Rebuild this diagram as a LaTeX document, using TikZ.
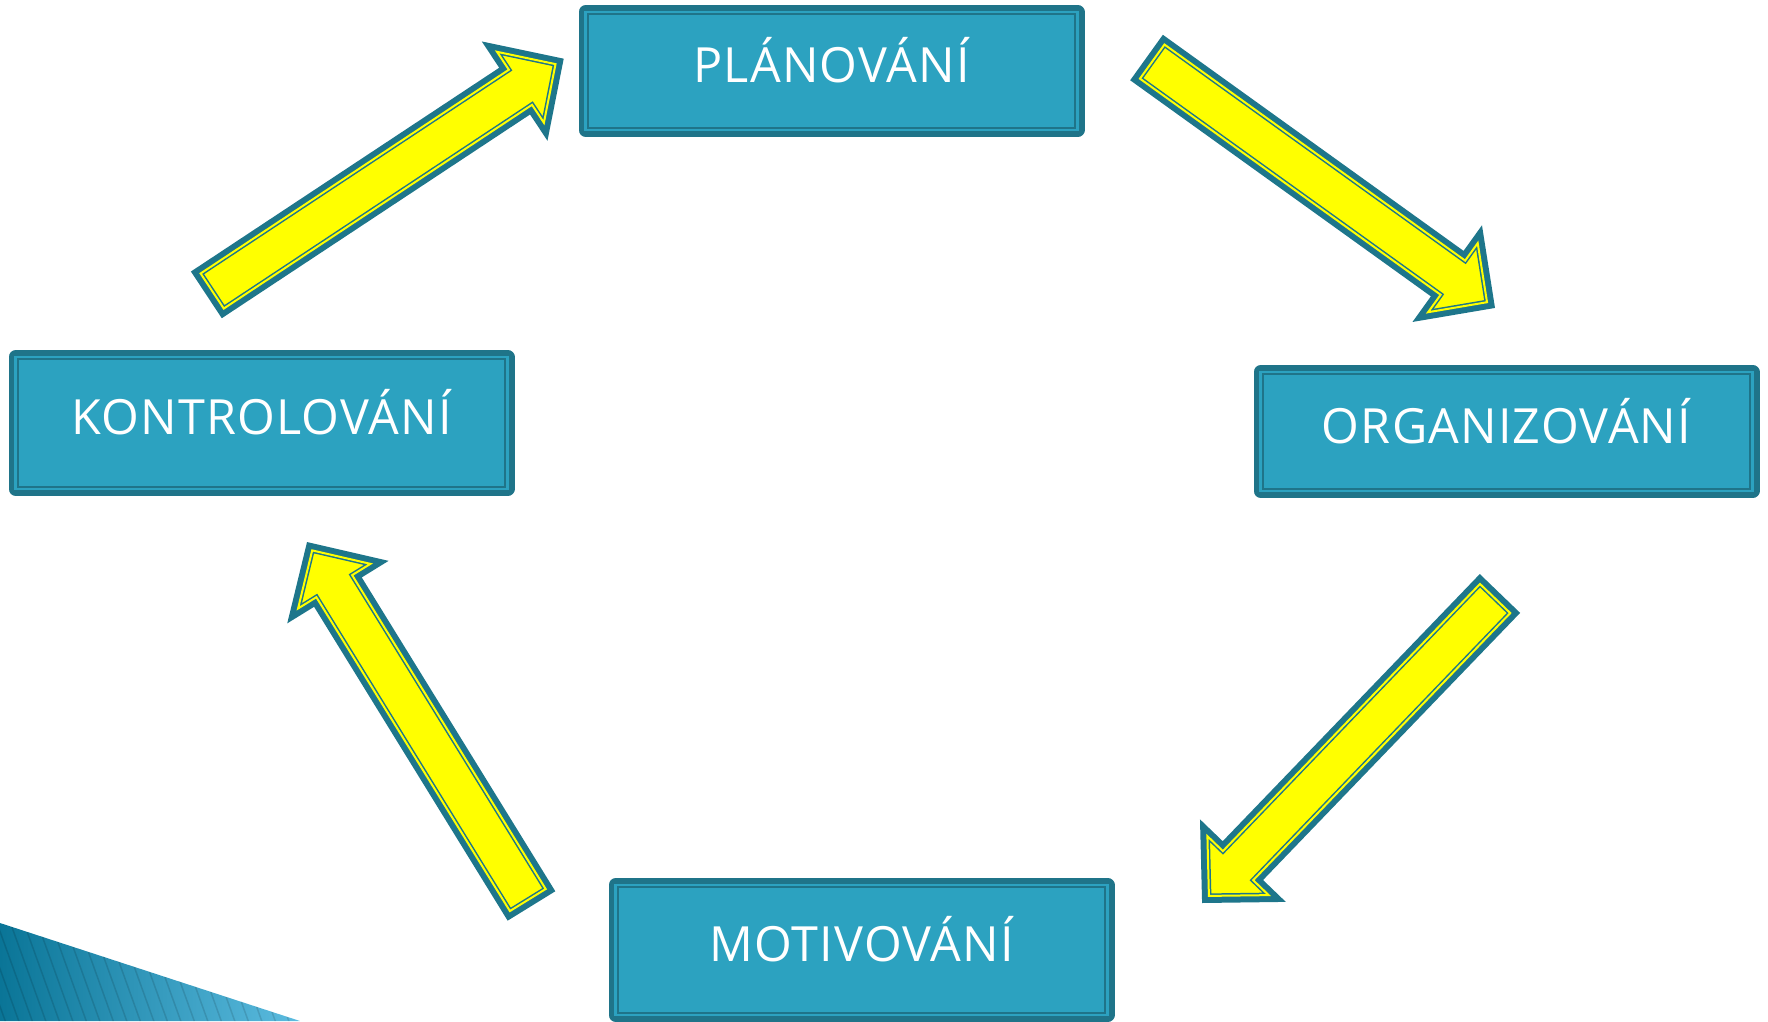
\documentclass[tikz,border=0pt]{standalone}
\usepackage{fontspec}
\setmainfont{Open Sans}[LetterSpace=2.5]
\usetikzlibrary{calc,positioning}

\definecolor{boxfill}{HTML}{2CA2C0}
\definecolor{boxline}{HTML}{1F7489}
\definecolor{arrowfill}{HTML}{FFFF00}
\definecolor{arrowline}{HTML}{1E768B}
\definecolor{decodark}{HTML}{0A7597}
\definecolor{decolight}{HTML}{5CBCE0}

\tikzset{
  phase/.style={rectangle, inner sep=0pt, fill=boxfill, draw=boxline,
    line width=2pt, double=boxfill, double distance=2.5pt,
    preaction={draw=boxline, line width=14pt, line join=round},
    minimum width=492pt,
    text=white, font=\fontsize{48.5}{58}\selectfont,
    text height=34.5pt, text depth=11pt},
  cyclearrow/.style={fill=arrowfill, draw=arrowline, line width=1.5pt,
    double=arrowfill, double distance=2pt,
    preaction={draw=arrowline, line width=14pt}},
  stripe/.style={draw=black, opacity=0.12, line width=1.5pt}
}

\begin{document}
\begin{tikzpicture}[x=1pt,y=-1pt]
  \useasboundingbox (0,0) rectangle (1768,1021);

  % corner decoration
  \begin{scope}
    \clip (0,923) -- (300,1021) -- (0,1021) -- cycle;
    \shade[left color=decodark, right color=decolight] (0,915) rectangle (300,1021);
    \foreach \x in {-50,-36.5,...,300}
      \draw[stripe] (\x,905) -- ++(45,125);
  \end{scope}

  % the four phases
  \node[phase, minimum height=118pt] (Plan) at (831.5,71) {PLÁNOVÁNÍ};
  \node[phase, minimum height=119pt] (Org) at (1506.5,431.5) {ORGANIZOVÁNÍ};
  \node[phase, minimum height=130pt] (Mot) at (861.5,950) {MOTIVOVÁNÍ};
  \node[phase, minimum height=132pt] (Kontr) at (261.5,423) {KONTROLOVÁNÍ};

  % arrow ends
  \coordinate (s1) at (1152.2,61.6);  \coordinate (e1) at (1487.0,302.2);
  \coordinate (s2) at (1495.1,598.5); \coordinate (e2) at (1208.9,895.9);
  \coordinate (s3) at (527.8,900.0);  \coordinate (e3) at (312.2,550.4);
  \coordinate (s4) at (212.2,291.0);  \coordinate (e4) at (555.5,64.1);

  \foreach \i in {1,...,4} {
    \coordinate (h\i) at ($(e\i)!42pt!(s\i)$);
    \draw[cyclearrow] ($(s\i)!21pt!90:(e\i)$) -- ($(h\i)!21pt!90:(e\i)$)
      -- ($(h\i)!42.5pt!90:(e\i)$) -- (e\i) -- ($(h\i)!42.5pt!-90:(e\i)$)
      -- ($(h\i)!21pt!-90:(e\i)$) -- ($(s\i)!21pt!-90:(e\i)$) -- cycle;
  }
\end{tikzpicture}
\end{document}
